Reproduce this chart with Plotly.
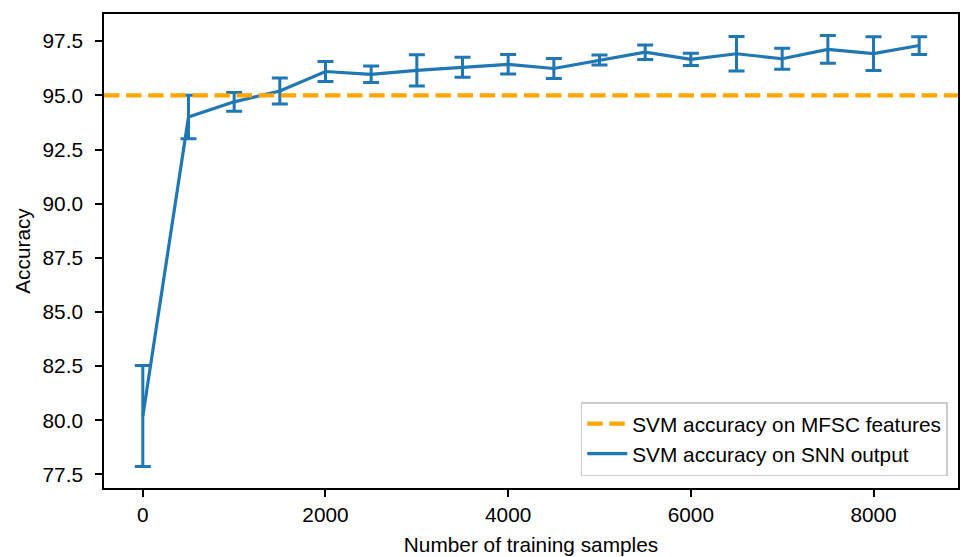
import plotly.graph_objects as go

# Data
samples = [0, 500, 1000, 1500, 2000, 2500, 3000, 3500, 4000, 4500,
           5000, 5500, 6000, 6500, 7000, 7500, 8000, 8500]
accuracy = [80.2, 94.0, 94.7, 95.2, 96.1, 95.97, 96.15, 96.3, 96.43, 96.24,
            96.63, 96.99, 96.66, 96.92, 96.69, 97.12, 96.93, 97.3]
acc_err = [2.33, 1.0, 0.43, 0.6, 0.46, 0.38, 0.72, 0.46, 0.45, 0.46,
           0.23, 0.33, 0.28, 0.8, 0.48, 0.64, 0.78, 0.41]
mfsc_accuracy = 95.0
x_ticks = [0, 2000, 4000, 6000, 8000]
y_ticks = [77.5, 80.0, 82.5, 85.0, 87.5, 90.0, 92.5, 95.0, 97.5]

# Axis ranges with 5% margins (matplotlib-like)
xmin, xmax = min(samples), max(samples)
xpad = 0.05 * (xmax - xmin)
xr = [xmin - xpad, xmax + xpad]
lows = [a - e for a, e in zip(accuracy, acc_err)]
highs = [a + e for a, e in zip(accuracy, acc_err)]
ylo, yhi = min(lows), max(highs)
ypad = 0.05 * (yhi - ylo)
yr = [ylo - ypad, yhi + ypad]

FS = 20.8
font_family = "Liberation Sans, Arial, sans-serif"

fig = go.Figure()
fig.add_trace(go.Scatter(
    x=samples, y=accuracy, mode="lines",
    name="SVM accuracy on SNN output",
    legendrank=2, legendgroup="b",
    line=dict(color="#1f77b4", width=3.2),
    error_y=dict(type="data", array=acc_err, visible=True,
                 color="#1f77b4", thickness=3, width=8),
))
fig.add_trace(go.Scatter(
    x=xr, y=[mfsc_accuracy, mfsc_accuracy], mode="lines",
    name="SVM accuracy on MFSC features",
    legendrank=1, legendgroup="a",
    line=dict(color="#ffa500", width=4.2, dash="15.4px,6.7px"),
))

axis_common = dict(
    showgrid=False, zeroline=False, showline=True, linecolor="black",
    linewidth=1.7, mirror=True, ticks="outside", ticklen=7, tickwidth=1.7,
    tickcolor="black",
    tickfont=dict(size=FS, color="black", family=font_family),
)
fig.update_xaxes(range=xr, tickvals=x_ticks, ticklabelstandoff=0,
                 title=dict(text="Number of training samples",
                            font=dict(size=FS, color="black", family=font_family),
                            standoff=13),
                 **axis_common)
fig.update_yaxes(range=yr, tickvals=y_ticks, tickformat=".1f", ticklabelstandoff=8,
                 title=dict(text="Accuracy",
                            font=dict(size=FS, color="black", family=font_family),
                            standoff=6),
                 **axis_common)

fig.update_layout(
    width=964, height=557,
    margin=dict(l=104, r=4, t=14, b=67),
    paper_bgcolor="white", plot_bgcolor="white",
    font=dict(family=font_family, color="black", size=FS),
    legend=dict(x=0.988, y=0.025, xanchor="right", yanchor="bottom",
                bordercolor="#cccccc", borderwidth=1.5, bgcolor="rgba(255,255,255,0.8)",
                font=dict(size=FS, family=font_family, color="black"),
                traceorder="grouped", tracegroupgap=0, itemwidth=40),
    showlegend=True,
)

fig.write_html("out.html")
